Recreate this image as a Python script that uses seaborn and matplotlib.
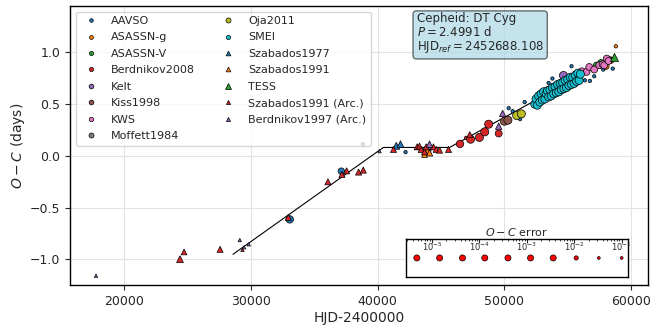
import numpy as np
import matplotlib
matplotlib.use("Agg")
import matplotlib.pyplot as plt
import matplotlib.ticker as mticker
import seaborn as sns
from matplotlib.lines import Line2D

sns.set_style("ticks")
plt.rcParams['font.family'] = ['DejaVu Sans']

# ---------------- data (HJD-2400000, O-C days, O-C error days) ----------------
aavso_x = [33060, 37130, 38840, 42200, 50340, 50655, 51240, 51600, 53490, 53790, 55300, 56350, 56750, 57090, 57800, 58550]
aavso_y = [-0.615, -0.148, 0.112, 0.036, 0.461, 0.432, 0.355, 0.520, 0.705, 0.748, 0.867, 0.731, 0.725, 0.770, 0.835, 0.844]
aavso_e = [0.002, 0.004, 0.02, 0.02, 0.02, 0.02, 0.02, 0.02, 0.02, 0.02, 0.02, 0.02, 0.02, 0.02, 0.02, 0.02]

asassn_g_x = [58010, 58400, 58800]
asassn_g_y = [0.867, 0.925, 1.060]
asassn_g_e = [0.004, 0.004, 0.03]

asassn_v_x = [57280, 57620, 58250]
asassn_v_y = [0.876, 0.900, 0.930]
asassn_v_e = [0.004, 0.004, 0.004]

berd08_x = [46500, 46980, 47330, 48030, 48450, 48760, 49550]
berd08_y = [0.115, 0.174, 0.161, 0.178, 0.232, 0.306, 0.216]
berd08_e = [0.002, 0.02, 0.001, 0.001, 0.001, 0.001, 0.003]

kelt_x = [54650]
kelt_y = [0.780]
kelt_e = [0.0005]

kiss_x = [50000, 50280]
kiss_y = [0.335, 0.345]
kiss_e = [0.0005, 0.0005]

kws_x = [55650, 56120, 56485, 56700, 57090, 57490, 57750, 57880, 58080, 58220]
kws_y = [0.796, 0.818, 0.812, 0.860, 0.835, 0.876, 0.886, 0.876, 0.941, 0.918]
kws_e = [0.006, 0.003, 0.003, 0.003, 0.003, 0.003, 0.003, 0.003, 0.003, 0.003]

moff_x = [43900]
moff_y = [0.070]
moff_e = [0.002]

oja_x = [50970, 51340]
oja_y = [0.390, 0.406]
oja_e = [0.0005, 0.0005]

smei_x = [52400, 52500, 52600, 52700, 52800, 52900, 53000, 53100, 53200, 53300, 53400, 53500,
          53600, 53700, 53800, 53900, 54000, 54100, 54200, 54300, 54400, 54500, 54600, 54700,
          54800, 54900, 55000, 55100, 55200, 55300, 55400, 55500, 55600, 55700, 55800, 55900, 56000]
smei_y = [0.50, 0.55, 0.49, 0.58, 0.52, 0.60, 0.54, 0.62, 0.55, 0.60, 0.63, 0.57,
          0.64, 0.58, 0.66, 0.60, 0.67, 0.61, 0.69, 0.62, 0.70, 0.64, 0.71, 0.65,
          0.73, 0.66, 0.74, 0.68, 0.76, 0.69, 0.76, 0.70, 0.78, 0.72, 0.80, 0.73, 0.79]
smei_e = [0.001] * len(smei_x)

sz77_x = [41466, 41800]
sz77_y = [0.097, 0.113]
sz77_e = [0.003, 0.003]

sz91_x = [43960, 44090, 43700]
sz91_y = [0.055, 0.029, 0.013]
sz91_e = [0.004, 0.004, 0.006]

tess_x = [58670]
tess_y = [0.957]
tess_e = [0.0003]

sz91a_x = [24400, 24720, 27565, 29330, 32950, 36076, 37180, 37550, 38495, 38865, 41250, 43120,
           43300, 43435, 43700, 43830, 44405, 44620, 44880, 45590, 47270]
sz91a_y = [-1.000, -0.930, -0.905, -0.910, -0.595, -0.251, -0.180, -0.145, -0.157, -0.138, 0.062, 0.087,
           0.094, 0.062, 0.039, 0.087, 0.087, 0.062, 0.055, 0.062, 0.205]
sz91a_e = [0.003, 0.006, 0.005, 0.03, 0.005, 0.005, 0.005, 0.005, 0.005, 0.005, 0.005, 0.005,
           0.005, 0.005, 0.005, 0.005, 0.005, 0.005, 0.005, 0.005, 0.005]

b97a_x = [17770, 29118, 29456, 29827, 40150, 44090, 49550, 49865]
b97a_y = [-1.160, -0.815, -0.885, -0.856, 0.045, 0.113, 0.287, 0.410]
b97a_e = [0.05, 0.05, 0.05, 0.02, 0.05, 0.004, 0.004, 0.004]

fit_x = [28580, 40150, 40450, 45670, 58700]
fit_y = [-0.953, 0.055, 0.081, 0.081, 0.957]

legend_err = [4.8e-6, 1.45e-5, 4.4e-5, 1.3e-4, 4.0e-4, 1.2e-3, 3.6e-3, 1.1e-2, 3.3e-2, 1.0e-1]
legend_ticks = [1e-5, 1e-4, 1e-3, 1e-2, 1e-1]

star_text = "Cepheid: DT Cyg\n$P = 2.4991$ d\nHJD$_{ref} = 2452688.108$"

# ---------------- styling ----------------
pal = sns.color_palette("tab10")
series = [
    ("AAVSO", aavso_x, aavso_y, aavso_e, pal[0], "o", 2.6),
    ("ASASSN-g", asassn_g_x, asassn_g_y, asassn_g_e, pal[1], "o", 2.8),
    ("ASASSN-V", asassn_v_x, asassn_v_y, asassn_v_e, pal[2], "o", 3.0),
    ("Berdnikov2008", berd08_x, berd08_y, berd08_e, pal[3], "o", 3.0),
    ("Kelt", kelt_x, kelt_y, kelt_e, pal[4], "o", 3.4),
    ("Kiss1998", kiss_x, kiss_y, kiss_e, pal[5], "o", 3.4),
    ("KWS", kws_x, kws_y, kws_e, pal[6], "o", 3.2),
    ("Moffett1984", moff_x, moff_y, moff_e, pal[7], "o", 3.6),
    ("Oja2011", oja_x, oja_y, oja_e, pal[8], "o", 3.6),
    ("SMEI", smei_x, smei_y, smei_e, pal[9], "o", 3.0),
    ("Szabados1977", sz77_x, sz77_y, sz77_e, pal[0], "^", 3.4),
    ("Szabados1991", sz91_x, sz91_y, sz91_e, pal[1], "^", 3.4),
    ("TESS", tess_x, tess_y, tess_e, pal[2], "^", 4.0),
    ("Szabados1991 (Arc.)", sz91a_x, sz91a_y, sz91a_e, pal[3], "^", 3.0),
    ("Berdnikov1997 (Arc.)", b97a_x, b97a_y, b97a_e, pal[4], "^", 3.0),
]


def main_size(e):
    return np.clip(24 * (-np.log10(np.asarray(e, float))) - 36, 6, 34)


def inset_size(e):
    return np.clip(20 * (-np.log10(np.asarray(e, float))) - 30, 4, 19)


fig = plt.figure(figsize=(6.67, 3.27), dpi=100)
ax = fig.add_axes([0.105, 0.1284, 0.8666, 0.8533])

sns.lineplot(x=fit_x, y=fit_y, sort=False, color="k", lw=0.8, ax=ax, zorder=2)

handles = []
for name, xs, ys, es, col, mk, ms in series:
    sns.scatterplot(x=xs, y=ys, s=main_size(es), color=col, marker=mk,
                    edgecolor="k", linewidth=0.5, ax=ax, legend=False, zorder=3)
    handles.append(Line2D([], [], ls="", marker=mk, color=col, mec="k", mew=0.5, ms=ms))

ax.set_xlim(15720, 61340)
ax.set_ylim(-1.25, 1.45)
ax.set_xticks([20000, 30000, 40000, 50000, 60000])
ax.set_yticks([-1.0, -0.5, 0.0, 0.5, 1.0])
ax.grid(True, color="#e3e3e3", lw=0.8)
ax.set_axisbelow(True)
ax.tick_params(labelsize=9)
ax.set_xlabel("HJD-2400000", fontsize=10, labelpad=2)
ax.set_ylabel("$O-C$ (days)", fontsize=10, labelpad=2)
for sp in ax.spines.values():
    sp.set_color("k")
    sp.set_linewidth(1.0)

ax.legend(handles, [s[0] for s in series], ncol=2, loc="upper left", fontsize=8,
          framealpha=0.8, borderaxespad=0.5, handletextpad=0.8, columnspacing=2.0,
          labelspacing=0.58)

ax.text(0.5995, 0.977, star_text, transform=ax.transAxes, va="top", ha="left", fontsize=8.5,
        linespacing=1.0,
        bbox=dict(boxstyle="round", facecolor="lightblue", alpha=0.7, edgecolor="#333333"))

# ---------------- error-size legend inset ----------------
ins = ax.inset_axes([0.581, 0.029, 0.384, 0.136])
ins.set_facecolor("white")
sns.scatterplot(x=legend_err, y=[0] * len(legend_err), s=inset_size(legend_err), color="red",
                edgecolor="k", linewidth=0.5, ax=ins, legend=False, zorder=3)
ins.set_xscale("log")
ins.set_xlim(10 ** -5.55, 10 ** -0.87)
ins.set_ylim(-1, 1)
ins.set_yticks([])
ins.xaxis.tick_top()
ins.xaxis.set_major_locator(mticker.FixedLocator(legend_ticks))
ins.xaxis.set_major_formatter(mticker.LogFormatterMathtext())
ins.xaxis.set_minor_locator(mticker.LogLocator(base=10, subs=np.arange(2, 10)))
ins.xaxis.set_minor_formatter(mticker.NullFormatter())
ins.tick_params(axis="x", which="both", direction="in", labelsize=6, pad=-10)
ins.tick_params(axis="x", which="major", length=3)
ins.tick_params(axis="x", which="minor", length=1.5)
ins.set_title("$O-C$ error", fontsize=8, pad=2)
for sp in ins.spines.values():
    sp.set_color("k")
    sp.set_linewidth(1.0)

fig.savefig("out.png", dpi=100)
